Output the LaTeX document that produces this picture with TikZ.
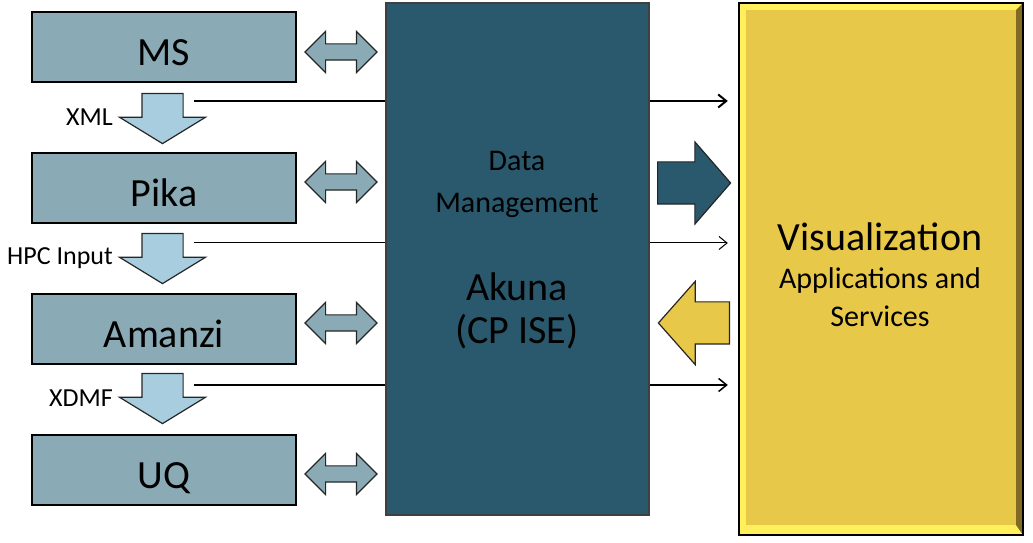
\documentclass[tikz,border=0pt]{standalone}
\usepackage{fontspec}
\setmainfont{Carlito}
\usetikzlibrary{shapes.arrows}
\usetikzlibrary{arrows.meta}
\usetikzlibrary{backgrounds}
\usetikzlibrary{calc}
\definecolor{tool_grey}{RGB}{138, 170, 181}
\definecolor{flow_blue}{RGB}{168, 205, 222}
\definecolor{akuna_teal}{RGB}{42, 88, 108}
\definecolor{vis_yellow}{RGB}{232, 200, 72}
\definecolor{vis_light}{RGB}{255, 240, 92}
\definecolor{vis_dark}{RGB}{128, 106, 36}
\tikzset{
  tool/.style={draw=black, line width=1.5pt, fill=tool_grey, minimum width=264pt, minimum height=70pt, inner sep=0pt, text height=38pt, text depth=0pt, font=\fontsize{40}{44}\selectfont},
  handoff/.style={shape=single arrow, draw=black!85, line width=1.2pt, fill=flow_blue, inner xsep=0pt, inner ysep=20pt, minimum height=50pt, single arrow head extend=22.5pt, single arrow tip angle=117, rotate=-90, anchor=tail},
  link/.style={shape=double arrow, draw=black!85, line width=1.2pt, fill=tool_grey, inner xsep=0pt, inner ysep=7.5pt, minimum height=72pt, double arrow head extend=12.5pt},
  fmt/.style={font=\fontsize{26}{28}\selectfont, inner sep=0pt},
  feed/.style={-{Straight Barb[length=8pt, width=13pt]}, shorten >=11pt}
}
\begin{document}
\begin{tikzpicture}[x=1pt, y=1pt]
\useasboundingbox (0,0) rectangle (1033,543);
% codes on the left
\node[tool] (ms) at (164,496) {MS};
\node[tool] (pika) at (164,355) {Pika};
\node[tool] (amanzi) at (164,214) {Amanzi};
\node[tool] (uq) at (164,73) {UQ};
\node[handoff] (msout) at (162.5,450) {};
\node[handoff] (pikaout) at (162.5,310) {};
\node[handoff] (amanziout) at (162.5,170) {};
\node[fmt, anchor=east] (xml) at (113,426) {XML};
\node[fmt, anchor=east] (hpc) at (113,285) {HPC Input};
\node[fmt, anchor=east] (xdmf) at (113,145) {XDMF};
\node[link] (mslink) at (341,491) {};
\node[link] (pikalink) at (341,361) {};
\node[link] (amanzilink) at (341,220) {};
\node[link] (uqlink) at (341,69) {};
% Akuna
\node[draw=black!75, line width=1.5pt, fill=akuna_teal, minimum width=263pt, minimum height=512pt] (ise) at (517.5,284) {};
\node[align=center, font=\fontsize{30}{42}\selectfont] (dm) at (517,359) {Data\\Management};
\node[align=center, font=\fontsize{40}{43}\selectfont] (akuna) at (517,232) {Akuna\\(CP ISE)};
% visualization
\node[fill=vis_yellow, minimum width=284pt, minimum height=532pt] (vis) at (881,274) {};
\fill[vis_light] (vis.north west) -- (vis.north east) -- ++(-7,-7) -- ($(vis.north west)+(7,-7)$) -- cycle;
\fill[vis_light] (vis.north west) -- ++(7,-7) -- ($(vis.south west)+(7,10)$) -- (vis.south west) -- cycle;
\fill[vis_light] (vis.south west) -- ++(7,10) -- ($(vis.south east)+(-7,10)$) -- (vis.south east) -- cycle;
\fill[vis_dark] (vis.north east) -- ++(-7,-7) -- ($(vis.south east)+(-7,10)$) -- (vis.south east) -- cycle;
\draw[line width=2pt] (vis.south west) rectangle (vis.north east);
\node[font=\fontsize{40}{42}\selectfont] (visname) at (880,306) {Visualization};
\node[align=center, font=\fontsize{30}{38}\selectfont] (apps) at (880,246) {Applications and\\Services};
\node[shape=single arrow, draw=black!85, line width=1.2pt, fill=akuna_teal, inner xsep=0pt, inner ysep=20.5pt, minimum height=73pt, single arrow head extend=20pt, single arrow tip angle=98, anchor=tail] (toviz) at (657,360) {};
\node[shape=single arrow, draw=black!85, line width=1.2pt, fill=vis_yellow, inner xsep=0pt, inner ysep=20.5pt, minimum height=71pt, single arrow head extend=20.5pt, single arrow tip angle=97, rotate=180, anchor=tail] (fromviz) at (730,220) {};
\begin{scope}[on background layer]
\coordinate (xmlsrc) at (194,442);
\coordinate (hpcsrc) at (194,300);
\coordinate (xdmfsrc) at (194,158);
\draw[feed, line width=2pt] (xmlsrc) -- (xmlsrc -| vis.west);
\draw[feed, line width=1pt] (hpcsrc) -- (hpcsrc -| vis.west);
\draw[feed, line width=1.5pt] (xdmfsrc) -- (xdmfsrc -| vis.west);
\end{scope}
\end{tikzpicture}
\end{document}
